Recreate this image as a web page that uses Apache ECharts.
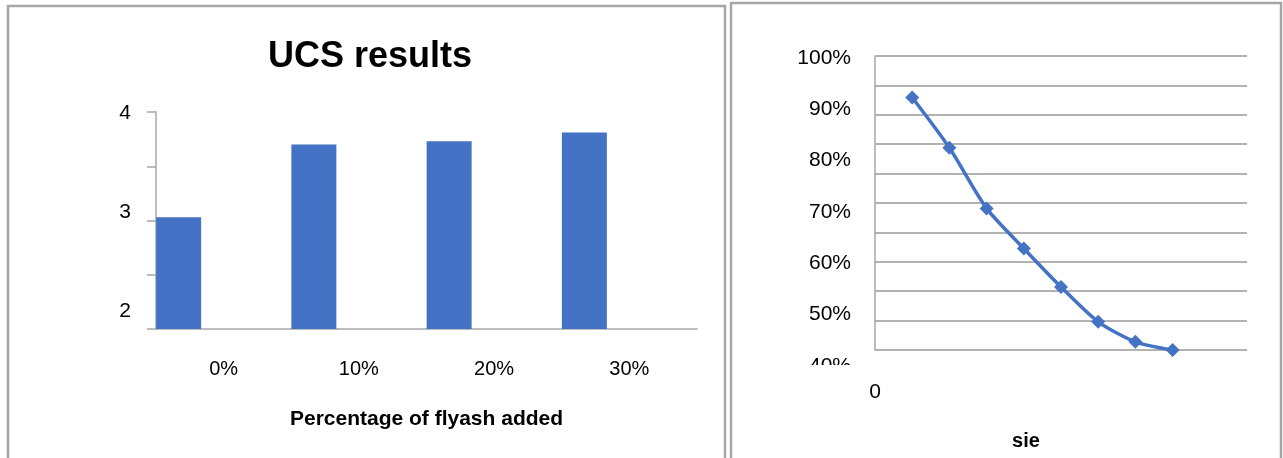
<!DOCTYPE html>
<html>
<head>
<meta charset="utf-8">
<script src="https://cdn.jsdelivr.net/npm/echarts@6/dist/echarts.min.js"></script>
<style>
  html, body { margin: 0; padding: 0; background: #fff; }
  #chart { width: 1283px; height: 458px; }
</style>
</head>
<body>
<div id="chart"></div>
<script>
// left panel: UCS results
const flyashCategories = ['0%', '10%', '20%', '30%']
const ucsValues = [3.03, 3.70, 3.73, 3.81]
const ucsTicks = [2, 3, 4]

// right panel: sie curve
const sieX = [1, 2, 3, 4, 5, 6, 7, 8]
const sieValues = [0.923, 0.825, 0.707, 0.629, 0.554, 0.486, 0.447, 0.431]

const FONT = 'Liberation Sans'
const BLUE = '#4472C4'
const GREY = '#a6a6a6'

const chart = echarts.init(document.getElementById('chart'))

const option = {
    backgroundColor: '#fff',
    animation: false,
    textStyle: { fontFamily: FONT, color: '#000' },
    title: {
        text: 'UCS results',
        left: 263,
        top: 34,
        textStyle: { fontFamily: FONT, fontSize: 36, fontWeight: 'bold', color: '#000' }
    },
    grid: [
        // bar plot area
        { left: 156, right: 586, top: 112, height: 217 },
        // bar tick labels
        { left: 156, right: 586, top: 113, height: 198 },
        // line plot area (grid lines)
        { left: 875, right: 36, top: 56, height: 294 },
        // line values / labels
        { left: 875, right: 36, top: 58, height: 308 }
    ],
    xAxis: [
        {
            gridIndex: 0,
            type: 'category',
            data: flyashCategories,
            axisLine: { lineStyle: { color: GREY, width: 1.5 } },
            axisTick: { show: false },
            axisLabel: { fontSize: 20, color: '#000', margin: 30, fontFamily: FONT },
            name: 'Percentage of flyash added',
            nameLocation: 'middle',
            nameGap: 80,
            nameTextStyle: { fontSize: 21, fontWeight: 'bold', color: '#000', fontFamily: FONT }
        },
        { gridIndex: 1, type: 'category', data: flyashCategories, show: false },
        {
            gridIndex: 2,
            type: 'value',
            min: 0,
            max: 10,
            interval: 10,
            axisLine: { show: false },
            axisTick: { show: false },
            splitLine: { show: false },
            axisLabel: {
                fontSize: 21,
                color: '#000',
                margin: 32,
                fontFamily: FONT,
                formatter: v => (v === 0 ? '0' : '')
            }
        },
        { gridIndex: 3, type: 'value', min: 0, max: 10, show: false }
    ],
    yAxis: [
        {
            gridIndex: 0,
            type: 'value',
            min: 2,
            max: 4,
            interval: 0.5,
            axisLine: { show: true, lineStyle: { color: GREY, width: 1.5 } },
            axisTick: { show: true, length: 9, lineStyle: { color: GREY, width: 1.5 } },
            axisLabel: { show: false },
            splitLine: { show: false }
        },
        {
            gridIndex: 1,
            type: 'value',
            min: ucsTicks[0],
            max: ucsTicks[ucsTicks.length - 1],
            interval: 1,
            axisLine: { show: false },
            axisTick: { show: false },
            splitLine: { show: false },
            axisLabel: { fontSize: 21, color: '#000', margin: 25, fontFamily: FONT }
        },
        {
            gridIndex: 2,
            type: 'value',
            min: 0,
            max: 10,
            interval: 1,
            axisLine: { show: true, lineStyle: { color: GREY, width: 1.5 } },
            axisTick: { show: false },
            axisLabel: { show: false },
            splitLine: { show: true, lineStyle: { color: '#999', width: 1.5 } }
        },
        {
            gridIndex: 3,
            type: 'value',
            min: 0.4,
            max: 1.0,
            interval: 0.1,
            axisLine: { show: false },
            axisTick: { show: false },
            splitLine: { show: false },
            axisLabel: {
                fontSize: 21,
                color: '#000',
                margin: 24,
                fontFamily: FONT,
                formatter: v => Math.round(v * 100) + '%'
            }
        }
    ],
    series: [
        {
            type: 'bar',
            xAxisIndex: 0,
            yAxisIndex: 0,
            data: ucsValues,
            barWidth: 45,
            barGap: '0%',
            itemStyle: { color: BLUE }
        },
        {
            // empty slot so bars sit at the left of each band
            type: 'bar',
            xAxisIndex: 0,
            yAxisIndex: 0,
            data: [],
            barWidth: 90
        },
        {
            type: 'line',
            xAxisIndex: 3,
            yAxisIndex: 3,
            data: sieX.map((x, i) => [x, sieValues[i]]),
            smooth: 0.25,
            symbol: 'diamond',
            symbolSize: 14,
            lineStyle: { color: BLUE, width: 3.5 },
            itemStyle: { color: BLUE }
        }
    ],
    graphic: [
        // panel frames
        {
            type: 'rect',
            shape: { x: 8, y: 6, width: 717, height: 470 },
            style: { fill: 'none', stroke: GREY, lineWidth: 2.5 },
            z: 100
        },
        {
            type: 'rect',
            shape: { x: 731, y: 3, width: 550, height: 470 },
            style: { fill: 'none', stroke: GREY, lineWidth: 2.5 },
            z: 100
        },
        // the 40% label is cut off in the original
        {
            type: 'rect',
            shape: { x: 800, y: 365, width: 60, height: 16 },
            style: { fill: '#fff' },
            z: 100
        },
        {
            type: 'text',
            x: 1026,
            y: 441,
            style: {
                text: 'sie',
                fontSize: 20,
                fontWeight: 'bold',
                fontFamily: FONT,
                fill: '#000',
                align: 'center',
                verticalAlign: 'middle'
            },
            z: 100
        }
    ]
}

chart.setOption(option)
</script>
</body>
</html>
